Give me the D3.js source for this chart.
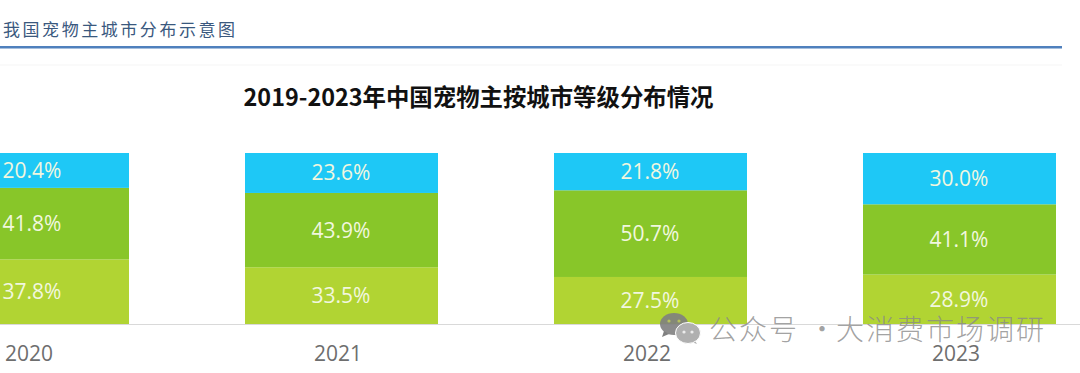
<!DOCTYPE html>
<html><head><meta charset="utf-8">
<style>html,body{margin:0;padding:0;background:#fff;overflow:hidden}svg{display:block}text{font-family:"Open Sans","Noto Sans CJK SC",sans-serif}</style>
<script src="https://cdn.jsdelivr.net/npm/d3@7/dist/d3.min.js"></script>
</head><body><svg id="c" width="1080" height="373"></svg>
<script>
const years = ["2020","2021","2022","2023"];
const tier3 = [37.8,33.5,27.5,28.9];
const tier2 = [41.8,43.9,50.7,41.1];
const tier1 = [20.4,23.6,21.8,30.0];
const seriesKeys = ["a","b","c"];
const seriesColors = ["#b1d433","#88c629","#1ec8f6"];
const heading = "我国宠物主城市分布示意图";
const chartTitle = "2019-2023年中国宠物主按城市等级分布情况";
const watermarkParts = ["公众号","·","大消费市场调研"];

const svg = d3.select("#c");
const x = d3.scaleBand().domain(years).range([-122,1114]).paddingInner(116/309).paddingOuter(58/309);
// bars are 100% stacked: each column fills the same height even when its labels sum to 101
const y = d3.scaleLinear().domain([0,1]).range([324,153]);
const rows = years.map((yr,i)=>({year:yr,a:tier3[i],b:tier2[i],c:tier1[i]}));
const stacked = d3.stack().keys(seriesKeys).offset(d3.stackOffsetExpand)(rows);

// header
svg.append("text").attr("x",3).attr("y",36).attr("font-size",17).attr("letter-spacing",2.55)
  .attr("fill","#3a587e").style("font-family",'"Noto Sans CJK SC"').style("font-weight",400).text(heading);
svg.append("rect").attr("x",0).attr("y",46).attr("width",1062).attr("height",2.5).attr("fill","#4f80bd");
svg.append("rect").attr("x",0).attr("y",64).attr("width",1062).attr("height",2).attr("fill","#fafafa");

// chart title
svg.append("text").attr("x",478.5).attr("y",106).attr("text-anchor","middle").attr("font-size",23.4)
  .attr("font-weight",700).attr("fill","#111").style("font-family",'"Noto Sans CJK SC"').text(chartTitle);

// bars
stacked.forEach((s,k)=>{
  const g = svg.append("g");
  g.selectAll("rect").data(s).join("rect")
    .attr("x",d=>x(d.data.year)).attr("width",x.bandwidth())
    .attr("y",d=>y(d[1])).attr("height",d=>y(d[0])-y(d[1]))
    .attr("fill",seriesColors[k]);
  g.selectAll("text").data(s).join("text")
    .attr("x",d=>x(d.data.year)+x.bandwidth()/2-0.5)
    .attr("y",d=>(y(d[0])+y(d[1]))/2+7.5)
    .attr("text-anchor","middle").attr("font-size",21).attr("fill","#f1f7df")
    .text(d=>d.data[seriesKeys[k]].toFixed(1)+"%");
});

// axis
const axis = svg.append("g").attr("transform","translate(0,324.5)").call(d3.axisBottom(x).tickSize(0).tickPadding(22));
axis.select(".domain").attr("d","M0,0H1080").attr("stroke","#d9d9d9").attr("stroke-width",1);
axis.selectAll("text").attr("font-size",21).attr("dx",-3.5).attr("fill","#6e6e6e").style("font-family",'"Open Sans"');

// watermark
const wm = svg.append("g");
wm.append("path").attr("d","M664,331l-2,6l7,-3z").attr("fill","#808080");
wm.append("ellipse").attr("cx",674).attr("cy",324).attr("rx",14).attr("ry",11).attr("fill","#808080").attr("fill-opacity",0.9);
wm.append("path").attr("d","M694,339l3,5l-8,-3z").attr("fill","#b0b0b0");
wm.append("ellipse").attr("cx",688).attr("cy",333).attr("rx",12.5).attr("ry",10.5).attr("fill","#b0b0b0").attr("stroke","#fff").attr("stroke-width",1);
[[669,321,"#b5c060"],[679,321,"#b5c060"],[684,332,"#ececec"],[692,332,"#ececec"]].forEach(e=>
  wm.append("circle").attr("cx",e[0]).attr("cy",e[1]).attr("r",1.6).attr("fill",e[2]));
const wmX = [709,808,836];
watermarkParts.forEach((t,i)=>wm.append("text").attr("x",wmX[i]).attr("y",340).attr("font-size",28).attr("letter-spacing",2)
  .attr("fill","#8a8a8a").attr("fill-opacity",0.8).style("font-family",'"Noto Sans CJK SC"').style("font-weight",300).text(t));
</script></body></html>
